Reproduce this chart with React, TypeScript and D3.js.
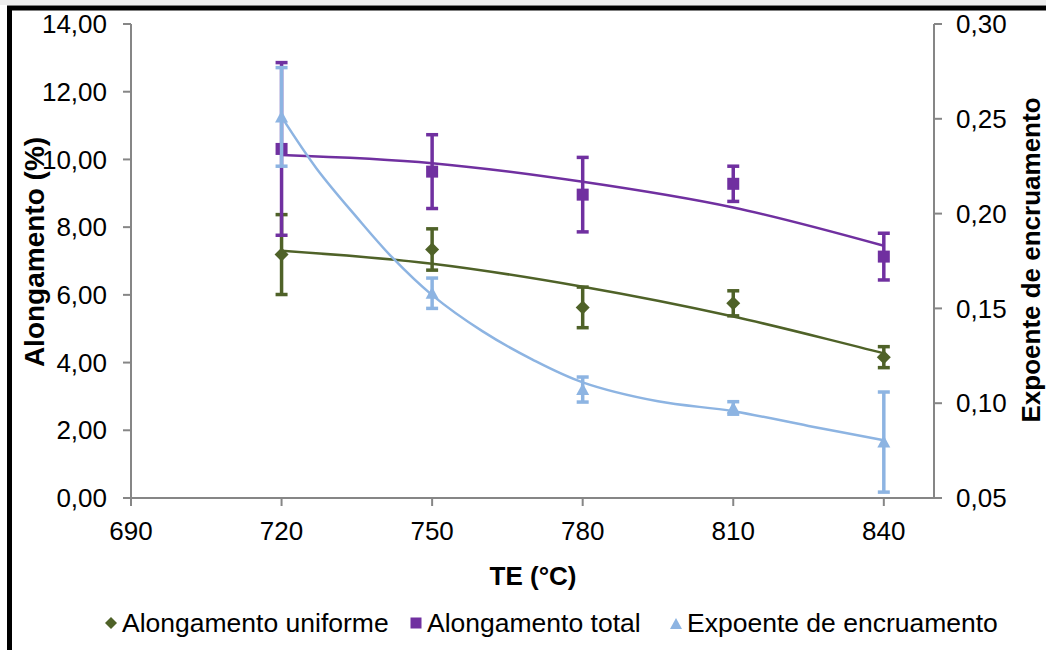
import React from 'react';
import * as d3 from 'd3';

// medições por temperatura de encharque
const temps = [720, 750, 780, 810, 840];
const uniforme = [7.19, 7.34, 5.63, 5.75, 4.16];
const uniformeErr = [1.18, 0.61, 0.6, 0.37, 0.31];
const total = [10.31, 9.64, 8.96, 9.28, 7.13];
const totalErr = [2.55, 1.09, 1.1, 0.52, 0.69];
const expoente = [0.251, 0.158, 0.1072, 0.0975, 0.0795];
const expoenteErr = [0.026, 0.008, 0.0066, 0.0033, 0.0264];

// linhas de tendência
const uniformeTrend = [7.3, 6.92, 6.24, 5.36, 4.27];
const totalTrend = [10.13, 9.89, 9.34, 8.58, 7.45];
const expTrendTemps = [720, 727, 735, 742, 750, 760, 770, 780, 795, 810, 825, 840];
const expTrend = [0.251, 0.2237, 0.198, 0.177, 0.157, 0.138, 0.123, 0.111, 0.101, 0.0958, 0.088, 0.0805];

const xTicks = [690, 720, 750, 780, 810, 840];
const yLeftTicks = [0, 2, 4, 6, 8, 10, 12, 14];
const yRightTicks = [0.05, 0.1, 0.15, 0.2, 0.25, 0.3];

const legendLabels = ['Alongamento uniforme', 'Alongamento total', 'Expoente de encruamento'];

const GREEN = '#4F6228';
const PURPLE = '#7030A0';
const BLUE = '#8DB4E2';
const AXIS = '#868686';

const width = 1046;
const height = 650;
const plot = { left: 131, right: 934, top: 24, bottom: 498 };

const fmt = (v: number, d: number) => v.toFixed(d).replace('.', ',');

export default function App() {
  const x = d3.scaleLinear().domain([690, 850]).range([plot.left, plot.right]);
  const yL = d3.scaleLinear().domain([0, 14]).range([plot.bottom, plot.top]);
  const yR = d3.scaleLinear().domain([0.05, 0.3]).range([plot.bottom, plot.top]);

  const trendLine = (xs: number[], ys: number[], sc: (v: number) => number) =>
    d3.line<number>()
      .x((_, i) => x(xs[i]))
      .y(d => sc(d))
      .curve(d3.curveCatmullRom.alpha(0.5))(ys) || '';

  const errorBars = (vals: number[], errs: number[], sc: d3.ScaleLinear<number, number>, color: string) =>
    vals.map((v, i) => {
      const cx = x(temps[i]);
      const y1 = sc(v + errs[i]);
      const y2 = sc(v - errs[i]);
      return (
        <g key={i} stroke={color} strokeWidth={3.5}>
          <line x1={cx} x2={cx} y1={y1} y2={y2} />
          <line x1={cx - 6} x2={cx + 6} y1={y1} y2={y1} />
          <line x1={cx - 6} x2={cx + 6} y1={y2} y2={y2} />
        </g>
      );
    });

  const diamond = (cx: number, cy: number, r: number, color: string, key?: any) => (
    <path key={key} d={`M${cx},${cy - r}L${cx + r},${cy}L${cx},${cy + r}L${cx - r},${cy}Z`} fill={color} />
  );
  const square = (cx: number, cy: number, r: number, color: string, key?: any) => (
    <rect key={key} x={cx - r} y={cy - r} width={2 * r} height={2 * r} fill={color} />
  );
  const triangle = (cx: number, cy: number, r: number, color: string, key?: any) => (
    <path key={key} d={`M${cx},${cy - r}L${cx + r},${cy + r * 0.85}L${cx - r},${cy + r * 0.85}Z`} fill={color} />
  );

  const font = '"Liberation Sans", Arial, sans-serif';

  return (
    <svg width={width} height={height} style={{ position: 'absolute', left: 0, top: 0, background: '#fff' }} fontFamily={font}>
      <rect x={0} y={0} width={width} height={5} fill="#eeeeee" />
      <rect x={9.5} y={8} width={width + 20} height={height + 20} fill="#fff" stroke="#000" strokeWidth={5} />

      {/* eixos */}
      <g stroke={AXIS} strokeWidth={2} fill="none">
        <line x1={plot.left} x2={plot.left} y1={plot.top} y2={plot.bottom} />
        <line x1={plot.right} x2={plot.right} y1={plot.top} y2={plot.bottom} />
        <line x1={plot.left - 8} x2={plot.right + 8} y1={plot.bottom} y2={plot.bottom} />
        {yLeftTicks.map(t => <line key={'l' + t} x1={plot.left - 8} x2={plot.left} y1={yL(t)} y2={yL(t)} />)}
        {yRightTicks.map(t => <line key={'r' + t} x1={plot.right} x2={plot.right + 8} y1={yR(t)} y2={yR(t)} />)}
        {xTicks.map(t => <line key={'x' + t} x1={x(t)} x2={x(t)} y1={plot.bottom} y2={plot.bottom + 8} />)}
      </g>

      <g fontSize={26} fill="#000">
        {yLeftTicks.map(t => (
          <text key={t} x={107} y={yL(t)} dy="0.35em" textAnchor="end">{fmt(t, 2)}</text>
        ))}
        {yRightTicks.map(t => (
          <text key={t} x={956} y={yR(t)} dy="0.35em">{fmt(t, 2)}</text>
        ))}
        {xTicks.map(t => (
          <text key={t} x={x(t)} y={540} textAnchor="middle">{t}</text>
        ))}
      </g>

      <g fontWeight="bold" fill="#000">
        <text x={533} y={585} fontSize={26} textAnchor="middle">TE (°C)</text>
        <text transform="translate(44,252) rotate(-90)" fontSize={28} textAnchor="middle">Alongamento (%)</text>
        <text transform="translate(1040,260) rotate(-90)" fontSize={26} textAnchor="middle">Expoente de encruamento</text>
      </g>

      {/* tendências */}
      <g fill="none" strokeWidth={2.5}>
        <path d={trendLine(temps, uniformeTrend, yL)} stroke={GREEN} />
        <path d={trendLine(temps, totalTrend, yL)} stroke={PURPLE} />
        <path d={trendLine(expTrendTemps, expTrend, yR)} stroke={BLUE} />
      </g>

      {errorBars(uniforme, uniformeErr, yL, GREEN)}
      {uniforme.map((v, i) => diamond(x(temps[i]), yL(v), 7, GREEN, 'd' + i))}
      {errorBars(total, totalErr, yL, PURPLE)}
      {total.map((v, i) => square(x(temps[i]), yL(v), 6, PURPLE, 's' + i))}
      {errorBars(expoente, expoenteErr, yR, BLUE)}
      {expoente.map((v, i) => triangle(x(temps[i]), yR(v), 6.5, BLUE, 't' + i))}

      {/* legenda */}
      <g fontSize={26.5} fill="#000">
        {diamond(111, 623, 6, GREEN)}
        <text x={122} y={632}>{legendLabels[0]}</text>
        {square(416, 623, 5.5, PURPLE)}
        <text x={427} y={632}>{legendLabels[1]}</text>
        {triangle(676, 624, 6, BLUE)}
        <text x={687} y={632}>{legendLabels[2]}</text>
      </g>
    </svg>
  );
}
